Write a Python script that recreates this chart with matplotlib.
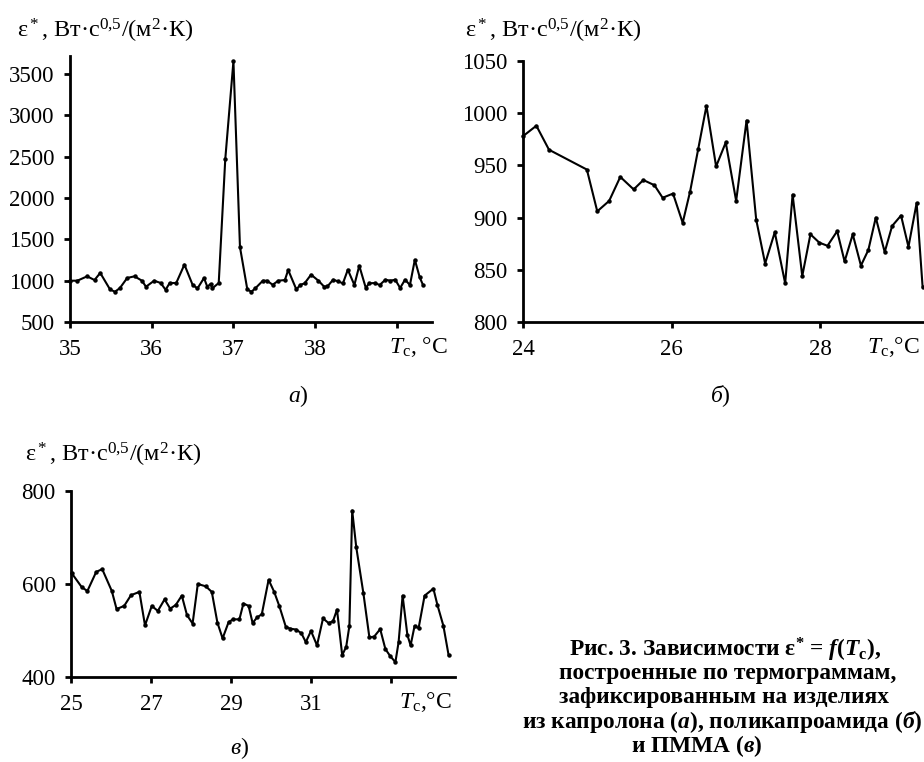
import matplotlib
matplotlib.use('Agg')
import matplotlib.pyplot as plt

# panel a: caprolon
t_a = [35.00, 35.09, 35.21, 35.30, 35.37, 35.49, 35.55, 35.61, 35.70, 35.79,
       35.88, 35.93, 36.03, 36.11, 36.17, 36.22, 36.30, 36.40, 36.50, 36.56,
       36.64, 36.68, 36.72, 36.74, 36.82, 36.90, 37.00, 37.08, 37.17, 37.22,
       37.27, 37.36, 37.41, 37.48, 37.55, 37.63, 37.67, 37.77, 37.82, 37.87,
       37.95, 38.04, 38.11, 38.15, 38.22, 38.28, 38.34, 38.40, 38.48, 38.54,
       38.62, 38.66, 38.73, 38.79, 38.86, 38.92, 38.98, 39.04, 39.10, 39.16,
       39.22, 39.28, 39.32]
e_a = [1000, 1000, 1053, 1008, 1094, 894, 866, 910, 1033, 1053,
       1000, 927, 1000, 972, 890, 972, 972, 1195, 951, 906,
       1033, 927, 960, 906, 972, 2470, 3657, 1407, 894, 866,
       910, 1000, 1000, 951, 1000, 1008, 1130, 894, 951, 967,
       1073, 1000, 928, 930, 1012, 992, 968, 1133, 948, 1181,
       912, 968, 972, 948, 1012, 1000, 1012, 912, 1012, 948,
       1253, 1040, 948]

# panel b: polycaproamide
t_b = [24.00, 24.18, 24.35, 24.86, 25.00, 25.16, 25.31, 25.49, 25.62, 25.77,
       25.88, 26.02, 26.15, 26.25, 26.36, 26.47, 26.60, 26.73, 26.87, 27.01,
       27.14, 27.26, 27.39, 27.53, 27.63, 27.76, 27.87, 27.99, 28.10, 28.23,
       28.33, 28.44, 28.55, 28.65, 28.75, 28.87, 28.97, 29.09, 29.19, 29.30,
       29.38]
e_b = [978, 988, 965, 946, 906, 916, 939, 927, 936, 931,
       919, 923, 895, 925, 966, 1007, 949, 972, 916, 993,
       898, 856, 886, 837, 922, 844, 884, 876, 873, 887,
       858, 884, 854, 869, 900, 867, 892, 902, 872, 914,
       834]

# panel c: PMMA
t_c = [25.02, 25.27, 25.41, 25.63, 25.78, 26.02, 26.14, 26.33, 26.50, 26.71,
       26.85, 27.02, 27.17, 27.34, 27.48, 27.62, 27.77, 27.90, 28.04, 28.17,
       28.37, 28.52, 28.66, 28.79, 28.94, 29.05, 29.21, 29.31, 29.44, 29.54,
       29.65, 29.77, 29.94, 30.08, 30.21, 30.37, 30.48, 30.63, 30.76, 30.87,
       31.00, 31.15, 31.30, 31.44, 31.55, 31.65, 31.78, 31.88, 31.96, 32.03,
       32.13, 32.31, 32.46, 32.58, 32.73, 32.86, 32.98, 33.11, 33.19, 33.29,
       33.41, 33.49, 33.59, 33.69, 33.84, 34.06, 34.16, 34.31, 34.44]
e_c = [623, 593, 585, 626, 632, 585, 546, 553, 576, 583,
       511, 553, 542, 567, 547, 555, 575, 533, 515, 600,
       595, 583, 517, 483, 518, 524, 524, 558, 553, 516,
       528, 535, 609, 583, 552, 508, 504, 502, 494, 475,
       499, 468, 526, 516, 520, 545, 447, 465, 510, 758,
       680, 580, 485, 487, 503, 460, 445, 432, 475, 575,
       490, 468, 510, 505, 575, 590, 555, 510, 447]

plt.rcParams['font.family'] = 'Liberation Serif'
plt.rcParams['mathtext.fontset'] = 'custom'
plt.rcParams['mathtext.rm'] = 'Liberation Serif'
plt.rcParams['mathtext.it'] = 'Liberation Serif:italic'
plt.rcParams['mathtext.bf'] = 'Liberation Serif:bold'
plt.rcParams['mathtext.bfit'] = 'Liberation Serif:italic:bold'

W, H = 924, 762
fig = plt.figure(figsize=(W / 100, H / 100), dpi=100)


def px(x, y):
    return x / W, 1 - y / H


def make_ax(left, top, right, bottom):
    ax = fig.add_axes([left / W, 1 - bottom / H, (right - left) / W, (bottom - top) / H])
    for s in ['top', 'right']:
        ax.spines[s].set_visible(False)
    for s in ['left', 'bottom']:
        ax.spines[s].set_linewidth(2)
    ax.tick_params(direction='out', length=4, width=2, labelsize=16.5)
    ax.tick_params(axis='x', pad=8)
    ax.tick_params(axis='y', pad=7)
    return ax


ylab = 'ε$^*$, Вт·с$^{0{,}5}$/(м$^2$·К)'
line_kw = dict(color='black', lw=1.5, marker='o', ms=2.2, clip_on=False)

# a
ax = make_ax(70, 56, 432, 322)
ax.plot(t_a, e_a, **line_kw)
ax.set_xlim(35, 39.43)
ax.set_ylim(500, 3720)
ax.set_xticks([35, 36, 37, 38, 39])
ax.set_xticklabels(['35', '36', '37', '38', ''])
ax.set_yticks(range(500, 3501, 500))
fig.text(*px(17, 38), ylab, fontsize=17.5, ha='left', va='baseline')
fig.text(*px(418, 347), '$T_{\\mathrm{c}}$, °C', fontsize=17, ha='center', va='center')
fig.text(*px(298, 396), '$а$)', fontsize=17, ha='center', va='center')

# b
ax = make_ax(523, 61, 930, 322)
ax.plot(t_b, e_b, **line_kw)
ax.set_xlim(24, 29.48)
ax.set_ylim(800, 1050)
ax.set_xticks([24, 26, 28])
ax.set_yticks(range(800, 1051, 50))
fig.text(*px(465, 38), ylab, fontsize=17.5, ha='left', va='baseline')
fig.text(*px(893, 347), '$T_{\\mathrm{c}}$,°C', fontsize=17, ha='center', va='center')
fig.text(*px(720, 396), '$б$)', fontsize=17, ha='center', va='center')

# c
ax = make_ax(71, 491, 455, 677)
ax.plot(t_c, e_c, **line_kw)
ax.set_xlim(25, 34.6)
ax.set_ylim(400, 800)
ax.set_xticks([25, 27, 29, 31, 33])
ax.set_xticklabels(['25', '27', '29', '31', ''])
ax.set_yticks([400, 600, 800])
fig.text(*px(25, 462), ylab, fontsize=17.5, ha='left', va='baseline')
fig.text(*px(425, 702), '$T_{\\mathrm{c}}$,°C', fontsize=17, ha='center', va='center')
fig.text(*px(240, 748), '$в$)', fontsize=17, ha='center', va='center')

# caption
cap = [
    (725, 650, 'center', 'Рис. 3. Зависимости $\\mathbf{ε}^{\\mathbf{*}}$ = $\\mathbfit{f}$($\\mathbfit{T}_{\\mathbf{c}}$),'),
    (728, 674, 'center', 'построенные по термограммам,'),
    (724, 698, 'center', 'зафиксированным на изделиях'),
    (522, 722, 'left', 'из капролона ($\\mathbfit{а}$), поликапроамида ($\\mathbfit{б}$)'),
    (697, 746, 'center', 'и ПММА ($\\mathbfit{в}$)'),
]
for x, y, ha, s in cap:
    fig.text(*px(x, y), s, fontsize=16.8, fontweight='bold', ha=ha, va='center')

fig.savefig('out.png', dpi=100)
